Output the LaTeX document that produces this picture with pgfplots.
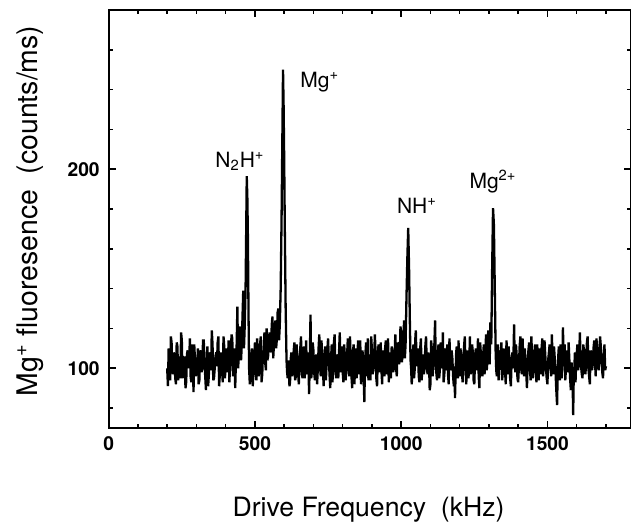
\documentclass[border=0pt]{standalone}
\usepackage{pgfplots}
\pgfplotsset{compat=1.18}
\usepackage{fontspec}
\setmainfont{TeX Gyre Heros}
\begin{document}
\begin{tikzpicture}
\begin{axis}[
  at={(0,0)}, anchor=south west,
  scale only axis,
  width=260.9pt, height=209pt,
  xmin=0, xmax=1784, ymin=70, ymax=280,
  xtick={0,500,1000,1500},
  minor xtick={100,200,300,400,600,700,800,900,1100,1200,1300,1400,1600,1700},
  ytick={100,200},
  minor ytick={80,120,140,160,180,220,240,260},
  tick align=inside,
  major tick length=3.5pt, minor tick length=2pt,
  every tick/.style={black, line width=0.8pt},
  axis line style={line width=1pt},
  /pgf/number format/assume math mode=true,
  /pgf/number format/set thousands separator={},
  ticklabel style={font=\bfseries\fontsize{9.6}{11}\selectfont},
  yticklabel style={xshift=-1pt},
  xticklabel style={yshift=-1pt},
  xlabel={Drive Frequency\ \ (kHz)},
  ylabel={Mg\textsuperscript{+} fluoresence\ \ (counts/ms)},
  every axis x label/.style={at={(axis description cs:0.498,0)}, anchor=center, yshift=-41pt, font=\fontsize{13.3}{15}\selectfont},
  every axis y label/.style={at={(axis description cs:-0.151,0.519)}, anchor=center, rotate=90, font=\fontsize{14.2}{16}\selectfont},
]
\addplot[black, line width=1.15pt, line join=miter, miter limit=2] coordinates {
(200,100)(202.5,91)(205,110)(207.5,104)(210,94)(212.5,116)(215,113)(217.5,99)(220,97)(222.5,108)(225,105)(227.5,95)(230,92)(232.5,113)(235,111)(237.5,94)(240,101)(242.5,106)(245,95)(247.5,118)
(250,114)(252.5,95)(255,99)(257.5,102)(260,106)(262.5,90)(265,93)(267.5,107)(270,109)(272.5,100)(275,102)(277.5,115)(280,96)(282.5,93)(285,112)(287.5,105)(290,88)(292.5,112)(295,104)(297.5,96)
(300,98)(302.5,101)(305,110)(307.5,92)(310,94)(312.5,109)(315,107)(317.5,98)(320,100)(322.5,114)(325,114)(327.5,103)(330,96)(332.5,89)(335,103)(337.5,111)(340,91)(342.5,97)(345,108)(347.5,106)
(350,99)(352.5,119)(355,112)(357.5,94)(360,95)(362.5,100)(365,106)(367.5,108)(370,101)(372.5,113)(375,116)(377.5,91)(380,97)(382.5,104)(385,108)(387.5,99)(390,93)(392.5,116)(395,111)(397.5,95)
(400,103)(402.5,110)(405,98)(407.5,102)(410,114)(412.5,93)(415,101)(417.5,107)(420,117)(422.5,115)(425,96)(427.5,98)(430,110)(432.5,90)(435,104)(437.5,112)(440,131)(442.5,100)(445,107)(447.5,121)
(450,118)(452.5,104)(455,112)(457.5,126)(460,139)(462.5,110)(465,121)(468,140)(470,168)(472,196.5)(474,186)(476,165)(478,128)(480,100)(482.5,92)(485,95)(487.5,106)(490,110)(492.5,91)(495,98)(497.5,104)
(500,113)(502.5,99)(505,94)(507.5,115)(510,106)(512.5,96)(515,101)(517.5,112)(520,116)(522.5,93)(525,97)(527.5,108)(530,109)(532.5,118)(535,103)(537.5,99)(540,120)(542.5,104)(545,106)(547.5,114)
(550,118)(552.5,108)(555,110)(557.5,122)(560,126)(562.5,105)(565,112)(567.5,118)(570,124)(572.5,110)(575,115)(577.5,128)(580,130)(582.5,114)(585,122)(588,140)(591,175)(594,220)(596,250)(598,232)
(600,205)(602,172)(605,130)(608,104)(610,98)(612,95)(614,104)(616,99)(618,91)(620,93)(622.5,105)(625,108)(627.5,96)(630,100)(632.5,109)(635,113)(637.5,94)(640,96)(642.5,112)(645,105)(647.5,98)
(650,92)(652.5,103)(655,110)(657.5,116)(660,99)(662.5,95)(665,103)(667.5,111)(670,95)(672.5,101)(675,114)(677.5,97)(680,101)(682.5,108)(685,87)(687.5,104)(690,127)(692.5,95)(695,99)(697.5,113)
(700,109)(702.5,98)(705,94)(707.5,103)(710,107)(712.5,92)(715,100)(717.5,110)(720,117)(722.5,101)(725,96)(727.5,114)(730,105)(732.5,99)(735,91)(737.5,106)(740,111)(742.5,94)(745,102)(747.5,109)
(750,115)(752.5,105)(755,97)(757.5,90)(760,104)(762.5,112)(765,93)(767.5,100)(770,113)(772.5,117)(775,100)(777.5,95)(780,107)(782.5,104)(785,95)(787.5,108)(790,118)(792.5,98)(795,103)(797.5,111)
(800,98)(802.5,93)(805,112)(807.5,106)(810,94)(812.5,99)(815,106)(817.5,115)(820,101)(822.5,96)(825,116)(827.5,103)(830,96)(832.5,90)(835,108)(837.5,112)(840,92)(842.5,101)(845,110)(847.5,95)
(850,103)(852.5,114)(855,97)(857.5,106)(860,114)(862.5,92)(865,99)(867.5,109)(870,105)(872,94)(874,83)(876,100)(878,108)(880,113)(882,96)(884,102)(886,115)(888,94)(890,101)(892.5,107)(895,94)(897.5,116)
(900,109)(902.5,97)(905,100)(907.5,104)(910,117)(912.5,108)(915,95)(917.5,91)(920,106)(922.5,112)(925,98)(927.5,103)(930,113)(932.5,99)(935,92)(937.5,109)(940,104)(942.5,96)(945,110)(947.5,114)
(950,97)(952.5,101)(955,115)(957.5,93)(960,102)(962.5,108)(965,95)(967.5,111)(970,108)(972.5,98)(975,100)(977.5,106)(980,117)(982.5,100)(985,96)(987.5,113)(990,111)(992.5,102)(995,104)(997.5,121)
(1000,118)(1002.5,103)(1005,108)(1007.5,116)(1010,124)(1012.5,105)(1015,112)(1018,135)(1021,155)(1024,170.5)(1027,150)(1030,120)(1032,104)(1034,100)(1036,92)(1038,97)(1040,108)(1042,112)(1044,95)(1046,99)(1048,114)
(1050,119)(1052.5,104)(1055,101)(1057.5,110)(1060,96)(1062.5,93)(1065,110)(1067.5,115)(1070,94)(1072.5,100)(1075,107)(1077.5,97)(1080,100)(1082.5,111)(1085,116)(1087.5,102)(1090,97)(1092.5,108)(1095,104)(1097.5,89)
(1100,92)(1102.5,114)(1105,109)(1107.5,96)(1110,101)(1113,110)(1116,124)(1118,103)(1120,98)(1122.5,94)(1125,106)(1127.5,112)(1130,95)(1132.5,100)(1135,113)(1137.5,106)(1140,100)(1142.5,118)(1145,93)(1147.5,97)
(1150,110)(1152.5,99)(1155,103)(1157.5,112)(1160,97)(1162.5,92)(1165,115)(1167.5,105)(1170,99)(1172.5,109)(1175,105)(1177.5,96)(1180,91)(1182,101)(1184,85)(1186,97)(1188,108)(1190,111)(1192,101)(1194,95)(1196,114)(1198,104)
(1200,96)(1202.5,110)(1205,107)(1207.5,99)(1210,93)(1212.5,104)(1215,111)(1217.5,116)(1220,100)(1222.5,92)(1225,104)(1227.5,109)(1230,95)(1232.5,101)(1235,116)(1237.5,97)(1240,99)(1242.5,112)(1245,108)(1247.5,94)
(1250,92)(1252.5,105)(1255,110)(1257.5,99)(1260,102)(1262.5,115)(1265,96)(1267.5,90)(1270,113)(1272.5,107)(1275,101)(1277.5,96)(1280,106)(1282.5,112)(1285,97)(1287.5,103)(1290,117)(1292.5,99)(1295,104)(1297.5,119)
(1300,113)(1302.5,102)(1305,123)(1308,112)(1311,150)(1314,180.5)(1317,172)(1320,140)(1323,108)(1325,99)(1327,96)(1329,105)(1331,112)(1333,94)(1335,100)(1337.5,109)(1340,105)(1342.5,113)(1345,94)(1347.5,98)
(1350,110)(1352.5,104)(1355,99)(1357.5,92)(1360,114)(1362.5,107)(1365,97)(1367.5,111)(1370,103)(1372.5,95)(1375,91)(1377.5,104)(1380,108)(1383,100)(1386,122)(1388,104)(1390,98)(1392.5,112)(1395,106)(1397.5,95)
(1400,93)(1402.5,101)(1405,111)(1407.5,116)(1410,100)(1412.5,97)(1415,115)(1417.5,104)(1420,96)(1422.5,110)(1425,104)(1427.5,98)(1430,90)(1432.5,103)(1435,109)(1437.5,113)(1440,101)(1442.5,94)(1445,116)(1447.5,106)
(1450,95)(1452.5,100)(1455,107)(1457.5,112)(1460,99)(1462.5,93)(1465,112)(1467.5,105)(1470,94)(1472.5,110)(1475,103)(1477.5,97)(1480,110)(1482.5,115)(1485,96)(1487.5,101)(1490,114)(1492.5,107)(1495,100)(1497.5,95)
(1500,92)(1502.5,104)(1505,108)(1507.5,112)(1510,102)(1512.5,96)(1515,117)(1517.5,106)(1520,97)(1522.5,111)(1525,105)(1527.5,99)(1530,90)(1533,81.5)(1535,98)(1537,106)(1539,111)(1541,99)(1543,94)(1545,112)(1547,104)(1549,95)
(1551,102)(1553,120.5)(1555,107)(1557,101)(1559,112)(1561,94)(1563,99)(1565,109)(1567.5,104)(1570,98)(1572.5,113)(1575,104)(1577.5,95)(1580,89)(1582.5,103)(1585,96)(1586.5,90)(1588,76.5)(1590,97)(1592,100)(1594,108)(1596,93)(1598,102)
(1600,107)(1602.5,112)(1605,99)(1608,104)(1611,118)(1613,106)(1615,101)(1617.5,97)(1620,95)(1622.5,112)(1625,109)(1627.5,100)(1630,97)(1632.5,105)(1635,113)(1637.5,116)(1640,100)(1642.5,96)(1645,92)(1647.5,109)
(1650,106)(1652.5,99)(1655,102)(1657.5,110)(1660,114)(1662.5,104)(1665,96)(1667.5,115)(1670,110)(1672.5,101)(1675,99)(1677.5,107)(1680,116)(1682.5,111)(1685,103)(1687.5,98)(1690,95)(1692.5,106)(1695,112)(1697.5,99)
(1700,101)
};
\node[font=\fontsize{10.5}{12}\selectfont] at (axis cs:449,204) {N\textsubscript{2}H\textsuperscript{+}};
\node[font=\fontsize{10.5}{12}\selectfont, anchor=west, inner sep=0pt] at (axis cs:654,244) {Mg\textsuperscript{+}};
\node[font=\fontsize{10.5}{12}\selectfont] at (axis cs:1054,181.5) {NH\textsuperscript{+}};
\node[font=\fontsize{10.5}{12}\selectfont] at (axis cs:1314,194) {Mg\textsuperscript{2+}};
\end{axis}
\pgfresetboundingbox
\path (-54.35pt,-48.5pt) rectangle (261.15pt,214pt);
\end{tikzpicture}
\end{document}
